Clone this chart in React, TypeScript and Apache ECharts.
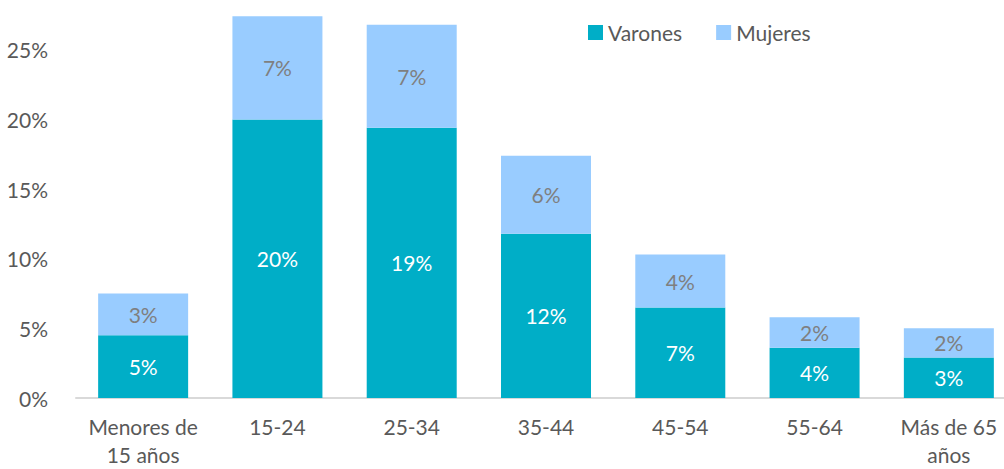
import React, { useEffect, useRef } from "react";
import * as echarts from "echarts";

const categories = ["Menores de\n15 años", "15-24", "25-34", "35-44", "45-54", "55-64", "Más de 65\naños"];
const varones = [4.5, 20.0, 19.4, 11.8, 6.5, 3.6, 2.9];
const mujeres = [3.0, 7.4, 7.4, 5.6, 3.8, 2.2, 2.1];
const yTicks = [0, 5, 10, 15, 20, 25];

const FONT = "Lato";
const FS = 21;

export default function App() {
  const ref = useRef<HTMLDivElement>(null);
  useEffect(() => {
    if (!ref.current) return;
    const chart = echarts.init(ref.current, undefined, { renderer: "svg" });
    chart.setOption({
      animation: false,
      textStyle: { fontFamily: FONT },
      legend: {
        left: 583,
        top: 17,
        itemWidth: 15,
        itemHeight: 15,
        itemGap: 34,
        icon: "rect",
        textStyle: { fontFamily: FONT, fontSize: FS, color: "#595959" },
        data: ["Varones", "Mujeres"],
      },
      grid: {
        left: 76,
        top: 8,
        width: 940,
        height: 390,
        containLabel: false,
        outerBoundsMode: "none",
      },
      xAxis: {
        type: "category",
        data: categories,
        axisLine: { show: true, lineStyle: { color: "#D9D9D9", width: 2 } },
        axisTick: { show: false },
        axisLabel: {
          fontFamily: FONT,
          fontSize: FS,
          color: "#595959",
          margin: 14,
          lineHeight: 28,
          interval: 0,
        },
      },
      yAxis: {
        type: "value",
        min: 0,
        max: 28,
        interval: 5,
        splitLine: { show: false },
        axisLine: { show: false },
        axisTick: { show: false },
        axisLabel: {
          fontFamily: FONT,
          fontSize: FS,
          color: "#595959",
          margin: 28,
          showMaxLabel: false,
          formatter: (v: number) => (yTicks.includes(v) ? v + "%" : ""),
        },
      },
      series: [
        {
          name: "Varones",
          type: "bar",
          stack: "total",
          barWidth: 90,
          data: varones,
          itemStyle: { color: "#00AEC7" },
          label: {
            show: true,
            position: "inside",
            fontFamily: FONT,
            fontSize: FS,
            color: "#FFFFFF",
            formatter: (p: any) => Math.round(p.value) + "%",
          },
        },
        {
          name: "Mujeres",
          type: "bar",
          stack: "total",
          barWidth: 90,
          data: mujeres,
          itemStyle: { color: "#99CCFF" },
          label: {
            show: true,
            position: "inside",
            fontFamily: FONT,
            fontSize: FS,
            color: "#7F7F7F",
            formatter: (p: any) => Math.round(p.value) + "%",
          },
        },
      ],
    });
    return () => chart.dispose();
  }, []);
  return (
    <div
      ref={ref}
      style={{ position: "fixed", left: 0, top: 0, width: 1004, height: 469, background: "#FFFFFF" }}
    />
  );
}
